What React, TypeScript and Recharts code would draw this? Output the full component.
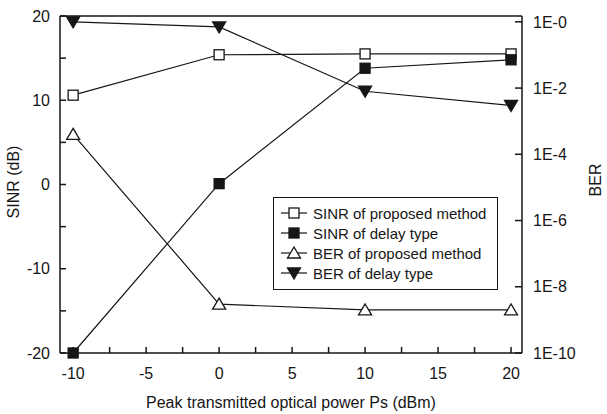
import { LineChart, Line, XAxis, YAxis, ReferenceLine, Legend } from 'recharts'

const powers = [-10, 0, 10, 20]
const sinrProposed = [10.6, 15.4, 15.5, 15.5]
const sinrDelay = [-20, 0.1, 13.8, 14.8]
const berProposed = [4e-4, 3e-9, 2e-9, 2e-9]
const berDelay = [1.0, 0.7, 8e-3, 3e-3]

const xTicks = [-10, -7.5, -5, -2.5, 0, 2.5, 5, 7.5, 10, 12.5, 15, 17.5, 20]
const sinrTicks = [-20, -15, -10, -5, 0, 5, 10, 15, 20]
const berTicks = [1, 1e-2, 1e-4, 1e-6, 1e-8, 1e-10]

const seriesNames = [
  'SINR of proposed method',
  'SINR of delay type',
  'BER of proposed method',
  'BER of delay type',
]

const data = powers.map((p, i) => ({
  p,
  sinrProposed: sinrProposed[i],
  sinrDelay: sinrDelay[i],
  berProposed: berProposed[i],
  berDelay: berDelay[i],
}))

const INK = '#161616'
const FONT = '"Liberation Sans", Arial, sans-serif'

// marker shapes
function Marker({ kind, cx, cy }: { kind: number; cx: number; cy: number }) {
  if (cx == null || cy == null) return null
  if (kind === 0)
    return <rect x={cx - 5} y={cy - 5} width={10} height={10} fill="#fff" stroke={INK} strokeWidth={1.3} />
  if (kind === 1)
    return <rect x={cx - 5} y={cy - 5} width={10} height={10} fill={INK} stroke={INK} strokeWidth={1.3} />
  if (kind === 2)
    return (
      <polygon
        points={`${cx},${cy - 6} ${cx - 6.5},${cy + 5} ${cx + 6.5},${cy + 5}`}
        fill="#fff"
        stroke={INK}
        strokeWidth={1.3}
      />
    )
  return (
    <polygon
      points={`${cx},${cy + 6} ${cx - 6.5},${cy - 5} ${cx + 6.5},${cy - 5}`}
      fill={INK}
      stroke={INK}
      strokeWidth={1.3}
    />
  )
}

const dotFor = (kind: number) => (props: any) =>
  <Marker key={`${kind}-${props.index}`} kind={kind} cx={props.cx} cy={props.cy} />

function LegendBox() {
  return (
    <div
      style={{
        border: `1.3px solid ${INK}`,
        background: '#fff',
        padding: '5px 10px 6px 7px',
        fontFamily: FONT,
        fontSize: 15,
        color: INK,
        width: 206,
      }}
    >
      {seriesNames.map((name, i) => (
        <div key={name} style={{ display: 'flex', alignItems: 'center', height: 20 }}>
          <svg width={26} height={20} style={{ marginRight: 6 }}>
            <line x1={0} y1={10} x2={26} y2={10} stroke={INK} strokeWidth={1.2} />
            <Marker kind={i} cx={13} cy={10} />
          </svg>
          <span>{name}</span>
        </div>
      ))}
    </div>
  )
}

const tickStyle = { fill: INK, fontSize: 16, fontFamily: FONT }

export default function App() {
  return (
    <div style={{ position: 'absolute', left: 0, top: 0, background: '#fff' }}>
      <LineChart width={607} height={414} data={data} margin={{ top: 16, right: 0, bottom: 0, left: 0 }}>
        <XAxis
          dataKey="p"
          type="number"
          domain={[-10.9, 20.75]}
          ticks={xTicks}
          allowDataOverflow
          height={61}
          tick={tickStyle}
          tickSize={-6}
          tickMargin={21}
          stroke={INK}
          strokeWidth={1.5}
          tickFormatter={(v: number) => (v % 5 === 0 ? String(v) : '')}
          label={() => (
            <text x={291} y={408} textAnchor="middle" fill={INK} fontSize={16} fontFamily={FONT}>
              Peak transmitted optical power Ps (dBm)
            </text>
          )}
        />
        <YAxis
          yAxisId="sinr"
          domain={[-20, 20]}
          ticks={sinrTicks}
          width={60}
          tick={tickStyle}
          tickSize={-6}
          tickMargin={16}
          stroke={INK}
          strokeWidth={1.5}
          tickFormatter={(v: number) => (v % 10 === 0 ? String(v) : '')}
          label={() => (
            <text
              x={15}
              y={182}
              transform="rotate(-90 15 182)"
              textAnchor="middle"
              dominantBaseline="middle"
              fill={INK}
              fontSize={16}
              fontFamily={FONT}
            >
              SINR (dB)
            </text>
          )}
        />
        <YAxis
          yAxisId="ber"
          orientation="right"
          scale="log"
          domain={[1e-10, 1.5]}
          allowDataOverflow
          ticks={berTicks}
          width={85}
          tick={tickStyle}
          tickSize={-7}
          tickMargin={18}
          stroke={INK}
          strokeWidth={1.5}
          tickFormatter={(v: number) => `1E-${Math.round(-Math.log10(v))}`}
          label={() => (
            <text
              x={597}
              y={180}
              transform="rotate(-90 597 180)"
              textAnchor="middle"
              dominantBaseline="middle"
              fill={INK}
              fontSize={16}
              fontFamily={FONT}
            >
              BER
            </text>
          )}
        />
        <ReferenceLine yAxisId="sinr" y={20} stroke={INK} strokeWidth={1.5} />
        <Legend
          layout="vertical"
          align="center"
          verticalAlign="middle"
          wrapperStyle={{ left: 273, top: 197, width: 'auto' }}
          content={() => <LegendBox />}
        />
        <Line yAxisId="sinr" dataKey="sinrProposed" stroke={INK} strokeWidth={1.2} dot={dotFor(0)} isAnimationActive={false} />
        <Line yAxisId="sinr" dataKey="sinrDelay" stroke={INK} strokeWidth={1.2} dot={dotFor(1)} isAnimationActive={false} />
        <Line yAxisId="ber" dataKey="berProposed" stroke={INK} strokeWidth={1.2} dot={dotFor(2)} isAnimationActive={false} />
        <Line yAxisId="ber" dataKey="berDelay" stroke={INK} strokeWidth={1.2} dot={dotFor(3)} isAnimationActive={false} />
      </LineChart>
    </div>
  )
}
